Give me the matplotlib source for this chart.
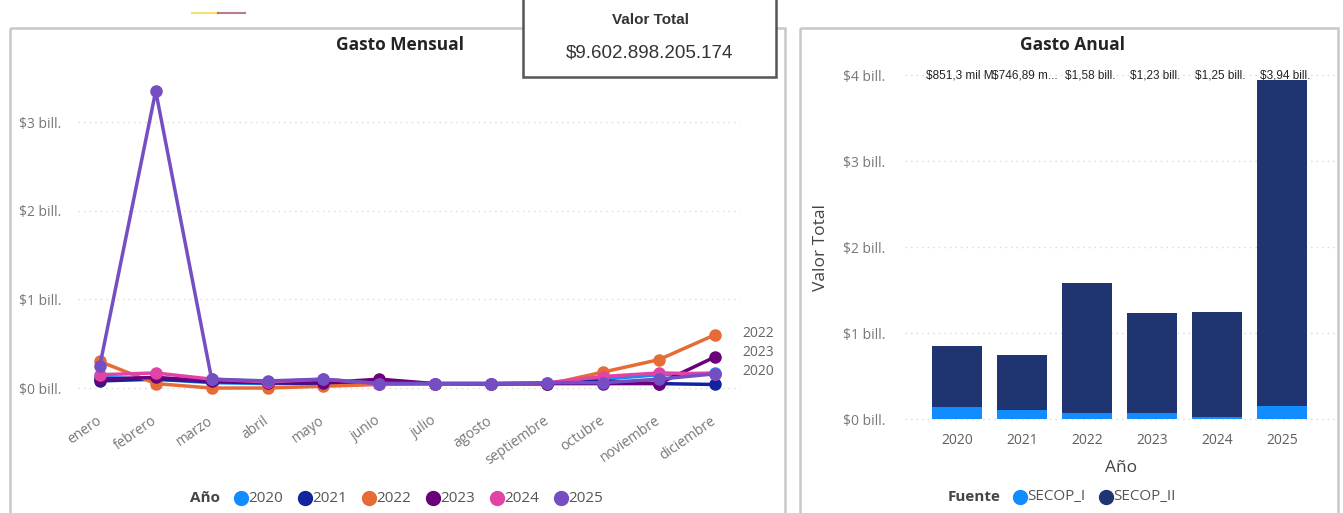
import matplotlib.pyplot as plt
from matplotlib.patches import Rectangle

W, H = 1343, 513

meses = ['enero', 'febrero', 'marzo', 'abril', 'mayo', 'junio', 'julio',
         'agosto', 'septiembre', 'octubre', 'noviembre', 'diciembre']

# gasto mensual por año (billones)
v2020 = [0.12, 0.10, 0.06, 0.05, 0.05, 0.05, 0.05, 0.04, 0.05, 0.10, 0.15, 0.17]
v2021 = [0.08, 0.10, 0.07, 0.06, 0.05, 0.06, 0.05, 0.05, 0.05, 0.08, 0.05, 0.04]
v2022 = [0.30, 0.05, 0.00, 0.00, 0.02, 0.04, 0.05, 0.05, 0.04, 0.18, 0.32, 0.60]
v2023 = [0.10, 0.12, 0.08, 0.06, 0.06, 0.10, 0.05, 0.05, 0.05, 0.05, 0.05, 0.35]
v2024 = [0.15, 0.17, 0.10, 0.07, 0.10, 0.05, 0.05, 0.05, 0.06, 0.13, 0.17, 0.16]
v2025 = [0.25, 3.35, 0.10, 0.08, 0.10, 0.05, 0.05, 0.05, 0.06, 0.06, 0.10, 0.16]

series = [('2020', v2020, '#118DFF'), ('2021', v2021, '#12239E'),
          ('2022', v2022, '#E66C37'), ('2023', v2023, '#6B007B'),
          ('2024', v2024, '#E044A7'), ('2025', v2025, '#744EC2')]
end_labels = ['2022', '2023', '2020']

# gasto anual por fuente (billones)
anios = ['2020', '2021', '2022', '2023', '2024', '2025']
secop_i = [0.14, 0.10, 0.07, 0.07, 0.02, 0.155]
total = [0.8513, 0.74689, 1.58, 1.23, 1.25, 3.94]
secop_ii = [t - s for t, s in zip(total, secop_i)]
etiquetas = ['$851,3 mil M', '$746,89 m...', '$1,58 bill.', '$1,23 bill.',
             '$1,25 bill.', '$3,94 bill.']
bill_ticks = [0, 1, 2, 3]
bill_ticks_r = [0, 1, 2, 3, 4]

plt.rcParams['font.family'] = ['Open Sans', 'DejaVu Sans']


def rect(l, t, r, b):
    return [l / W, 1 - b / H, (r - l) / W, (b - t) / H]


def fmt(v):
    return '$%d bill.' % v


fig = plt.figure(figsize=(W / 100, H / 100), dpi=100)

# overlay in pixel coords for panels, card and legends
ov = fig.add_axes([0, 0, 1, 1])
ov.set_xlim(0, W)
ov.set_ylim(H, 0)
ov.axis('off')
ov.add_patch(Rectangle((10, 28), 775, 500, fill=False, ec='#c8c8c8', lw=1.8))
ov.add_patch(Rectangle((800, 28), 538, 500, fill=False, ec='#c8c8c8', lw=1.8))
ov.plot([192, 218], [13, 13], color='#F2C811', lw=1.5, alpha=0.6)
ov.plot([218, 245], [13, 13], color='#8B2252', lw=1.5, alpha=0.6)

# ---- Gasto Mensual ----
ax = fig.add_axes(rect(78, 60, 740, 400))
x = list(range(len(meses)))
for i, (name, vals, col) in enumerate(series):
    ax.plot(x, vals, color=col, lw=2.5, marker='o', ms=8, zorder=3 + i)
ax.set_xlim(-0.39, 11.45)
ax.set_ylim(-0.135, 3.70)
ax.set_yticks(bill_ticks)
ax.set_yticklabels([fmt(v) for v in bill_ticks])
ax.set_xticks(x)
ax.set_xticklabels(meses, rotation=35, ha='right', va='center',
                   rotation_mode='anchor')
for s in ax.spines.values():
    s.set_visible(False)
ax.tick_params(length=0, colors='#777777', labelsize=10)
ax.tick_params(axis='x', pad=14)
ax.tick_params(axis='y', pad=12)
ax.grid(axis='y', color='#d9d9d9', lw=1, linestyle=(0, (1, 3)))
ax.set_facecolor('none')
for name in end_labels:
    vals = dict((n, v) for n, v, c in series)[name]
    off = {'2022': 0.02, '2023': 0.05, '2020': 0.02}[name]
    ax.text(11.5, vals[-1] + off, name, color='#666666', fontsize=10,
            va='center', ha='left', clip_on=False)

ov.text(400, 45, 'Gasto Mensual', ha='center', va='center', fontsize=12.5,
        fontweight='bold', color='#252423')

# legend mensual
ov.text(190, 498, 'Año', ha='left', va='center', fontsize=11,
        fontweight='bold', color='#444444')
lx = 241
for name, vals, col in series:
    ov.plot(lx, 498, 'o', color=col, ms=10)
    ov.text(lx + 7, 498, name, ha='left', va='center', fontsize=11,
            color='#555555')
    lx += 64

# ---- Valor Total card ----
ov.add_patch(Rectangle((523, -5), 253, 82, fc='white', ec='#555555', lw=1.8,
                       zorder=5))
ov.text(650, 20, 'Valor Total', ha='center', va='center', fontsize=11,
        fontweight='bold', color='#333333', zorder=6,
        family=['Liberation Sans'])
ov.text(650, 53, '$9.602.898.205.174', ha='center', va='center',
        fontsize=13.5, color='#333333', zorder=6, family=['Liberation Sans'])

# ---- Gasto Anual ----
bx = fig.add_axes(rect(905, 65, 1338, 430))
xb = list(range(len(anios)))
bx.bar(xb, secop_i, width=0.77, color='#118DFF', zorder=3)
bx.bar(xb, secop_ii, bottom=secop_i, width=0.77, color='#1F3571', zorder=3)
for xi, lab in zip(xb, etiquetas):
    bx.text(xi + 0.05, 4.0, lab, ha='center', va='center', fontsize=8.5,
            color='#252423', zorder=4, family=['Liberation Sans'])
bx.set_xlim(-0.8, 5.86)
bx.set_ylim(-0.128, 4.12)
bx.set_yticks(bill_ticks_r)
bx.set_yticklabels([fmt(v) for v in bill_ticks_r])
bx.set_xticks(xb)
bx.set_xticklabels(anios)
for s in bx.spines.values():
    s.set_visible(False)
bx.tick_params(length=0, colors='#777777', labelsize=10)
bx.tick_params(axis='y', pad=14)
bx.tick_params(axis='x', pad=2, colors='#605E5C', labelsize=10)
bx.grid(axis='y', color='#d9d9d9', lw=1, linestyle=(0, (1, 3)))
bx.set_axisbelow(True)
bx.set_facecolor('none')
bx.set_xlabel('Año', fontsize=12.5, color='#444444', labelpad=9)
bx.set_ylabel('Valor Total', fontsize=12.5, color='#444444', labelpad=10)

ov.text(1072, 45, 'Gasto Anual', ha='center', va='center', fontsize=12.5,
        fontweight='bold', color='#252423')

ov.text(948, 497, 'Fuente', ha='left', va='center', fontsize=11,
        fontweight='bold', color='#444444')
ov.plot(1020, 497, 'o', color='#118DFF', ms=10)
ov.text(1027, 497, 'SECOP_I', ha='left', va='center', fontsize=11,
        color='#555555')
ov.plot(1106, 497, 'o', color='#1F3571', ms=10)
ov.text(1113, 497, 'SECOP_II', ha='left', va='center', fontsize=11,
        color='#555555')

fig.savefig('out.png', dpi=100)
